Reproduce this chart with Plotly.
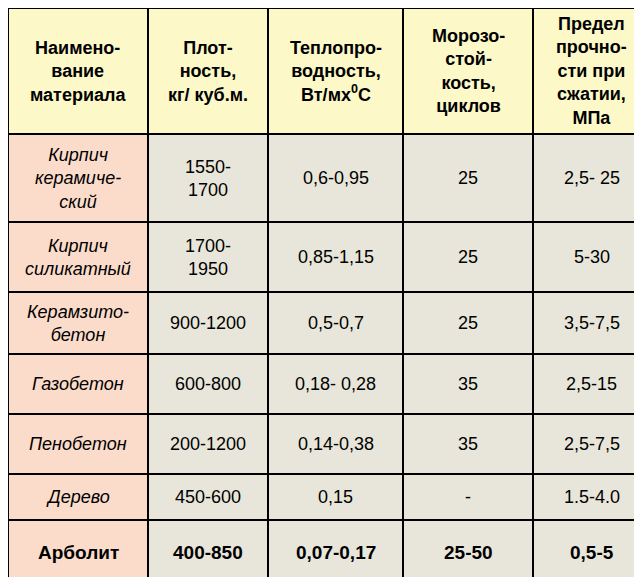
import plotly.graph_objects as go

headers = [
    "Наимено-<br>вание<br>материала",
    "Плот-<br>ность,<br>кг/ куб.м.",
    "Теплопро-<br>водность,<br>Вт/мх<sup>0</sup>С",
    "Морозо-<br>стой-<br>кость,<br>циклов",
    "Предел<br>прочно-<br>сти при<br>сжатии,<br>МПа",
]
materials = ["Кирпич<br>керамиче-<br>ский", "Кирпич<br>силикатный", "Керамзито-<br>бетон",
             "Газобетон", "Пенобетон", "Дерево"]
density = ["1550-<br>1700", "1700-<br>1950", "900-1200", "600-800", "200-1200", "450-600"]
conductivity = ["0,6-0,95", "0,85-1,15", "0,5-0,7", "0,18- 0,28", "0,14-0,38", "0,15"]
frost = ["25", "25", "25", "35", "35", "-"]
strength = ["2,5- 25", "5-30", "3,5-7,5", "2,5-15", "2,5-7,5", "1.5-4.0"]
last_row = ["Арболит", "400-850", "0,07-0,17", "25-50", "0,5-5"]

# layout of the grid (pixels)
col_widths = [140, 120, 135, 130, 117]
row_heights = [126, 88, 70, 62, 60, 60, 46, 65]

W, H = 642, 577
header_fill = "#fcf8c8"
pink = "#fbdccb"
grey = "#e8e6da"
font = "Liberation Sans, Arial"

cols = [materials, density, conductivity, frost, strength]
grid = [headers] + [[c[r] for c in cols] for r in range(len(materials))] + [last_row]

xs = [0]
for w in col_widths:
    xs.append(xs[-1] + w)
ys = [0]
for h in row_heights:
    ys.append(ys[-1] + h)

fig = go.Figure()
shapes, annotations = [], []
n_rows = len(grid)
for r, row in enumerate(grid):
    for c, text in enumerate(row):
        if r == 0:
            fill, label, size = header_fill, "<b>" + text + "</b>", 18
        else:
            fill = pink if c == 0 else grey
            if r == n_rows - 1:
                label, size = "<b>" + text + "</b>", 19
            elif c == 0:
                label, size = "<i>" + text + "</i>", 18
            else:
                label, size = text, 18
        shapes.append(dict(type="rect", x0=xs[c], x1=xs[c + 1], y0=ys[r], y1=ys[r + 1],
                           fillcolor=fill, line=dict(color="black", width=2), layer="below"))
        annotations.append(dict(x=(xs[c] + xs[c + 1]) / 2, y=(ys[r] + ys[r + 1]) / 2,
                                text=label, showarrow=False, align="center",
                                font=dict(family=font, size=size, color="black")))

fig.add_trace(go.Scatter(x=[0, W], y=[0, H], mode="markers", marker=dict(opacity=0),
                         hoverinfo="skip", showlegend=False))
fig.update_layout(
    width=W, height=H, margin=dict(l=0, r=0, t=0, b=0),
    paper_bgcolor="white", plot_bgcolor="white",
    shapes=shapes, annotations=annotations,
    xaxis=dict(range=[0, W], visible=False, fixedrange=True),
    yaxis=dict(range=[H, 0], visible=False, fixedrange=True),
)
fig.write_html("out.html")
